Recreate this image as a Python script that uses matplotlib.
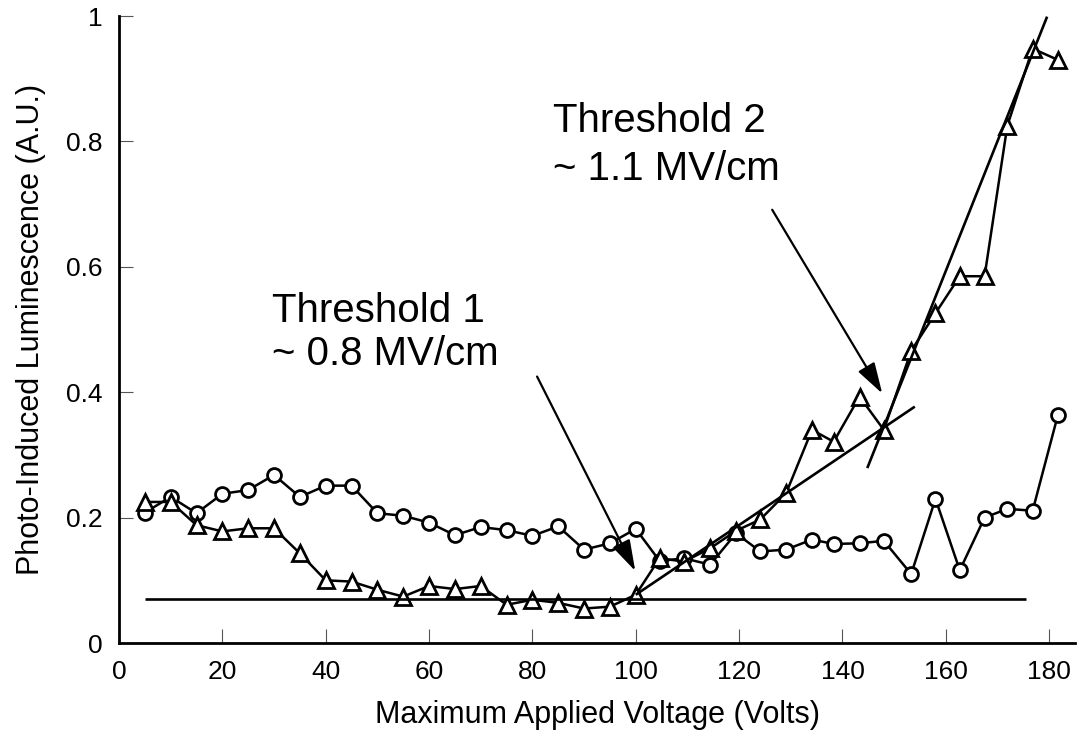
import matplotlib
matplotlib.use("Agg")
import matplotlib.pyplot as plt

plt.rcParams['font.family'] = ['Liberation Sans', 'DejaVu Sans']

# measured points (volts, luminescence)
volts = [5, 10, 15, 20, 25, 30, 35, 40, 45, 50, 55, 60, 65, 70, 75, 80, 85,
         90, 95, 100, 104.6, 109.4, 114.4, 119.4, 124.1, 129.1, 134.1, 138.3,
         143.3, 148, 153.3, 158, 162.7, 167.5, 171.9, 176.8, 181.7]
lum_circle = [0.208, 0.233, 0.207, 0.238, 0.244, 0.268, 0.233, 0.251, 0.251,
              0.207, 0.203, 0.192, 0.172, 0.185, 0.180, 0.171, 0.186, 0.149,
              0.159, 0.182, 0.131, 0.135, 0.125, 0.175, 0.146, 0.149, 0.165,
              0.158, 0.159, 0.163, 0.110, 0.230, 0.116, 0.200, 0.214, 0.211,
              0.364]
lum_triangle = [0.225, 0.225, 0.188, 0.178, 0.183, 0.183, 0.143, 0.100, 0.098,
                0.085, 0.074, 0.091, 0.086, 0.091, 0.061, 0.069, 0.064, 0.055,
                0.058, 0.077, 0.135, 0.130, 0.151, 0.179, 0.197, 0.239, 0.340,
                0.321, 0.393, 0.340, 0.466, 0.526, 0.585, 0.585, 0.825, 0.948,
                0.930]

# hand drawn fit lines
base_x = [5, 175.5]
base_y = [0.07, 0.07]
fit1_x = [100, 154]
fit1_y = [0.077, 0.377]
fit2_x = [144.8, 179.6]
fit2_y = [0.279, 0.999]

labels1 = ["Threshold 1", "~ 0.8 MV/cm"]
labels2 = ["Threshold 2", "~ 1.1 MV/cm"]

xticks = [0, 20, 40, 60, 80, 100, 120, 140, 160, 180]
yticks = [0, 0.2, 0.4, 0.6, 0.8, 1]
ytick_labels = ["0", "0.2", "0.4", "0.6", "0.8", "1"]

fig = plt.figure(figsize=(10.79, 7.38), dpi=100)
ax = fig.add_axes([0.1103, 0.1287, 0.886, 0.8496])

lw = 1.8
ax.plot(volts, lum_circle, color='black', lw=lw, marker='o', ms=10,
        mfc='white', mec='black', mew=2, zorder=3)
ax.plot(volts, lum_triangle, color='black', lw=lw, marker='^', ms=11,
        mfc='white', mec='black', mew=2, zorder=3)

for fx, fy in [(base_x, base_y), (fit1_x, fit1_y), (fit2_x, fit2_y)]:
    ax.plot(fx, fy, color='black', lw=1.9, zorder=4, solid_capstyle='butt')

arrow = dict(arrowstyle='-|>,head_length=1.9,head_width=0.58',
             color='black', lw=1.6, shrinkA=0, shrinkB=0, mutation_scale=10)
ax.annotate("", xy=(99.9, 0.115), xytext=(80.9, 0.425), arrowprops=arrow,
            zorder=5)
ax.annotate("", xy=(147.7, 0.398), xytext=(126.4, 0.691), arrowprops=arrow,
            zorder=5)

ax.text(29.6, 0.512, labels1[0], fontsize=29, va='baseline')
ax.text(29.6, 0.443, labels1[1], fontsize=29, va='baseline')
ax.text(84.0, 0.815, labels2[0], fontsize=29, va='baseline')
ax.text(84.0, 0.738, labels2[1], fontsize=29, va='baseline')

ax.set_xlim(0, 185)
ax.set_ylim(0, 1)
ax.set_xticks(xticks)
ax.set_yticks(yticks)
ax.set_yticklabels(ytick_labels)
ax.tick_params(direction='in', length=10, width=0.8, color='#555555',
               labelsize=19)
ax.tick_params(axis='x', pad=12)
ax.tick_params(axis='y', pad=12)

for side in ['top', 'right']:
    ax.spines[side].set_visible(False)
for side in ['left', 'bottom']:
    ax.spines[side].set_linewidth(2)

ax.set_xlabel("Maximum Applied Voltage (Volts)", fontsize=22, labelpad=12)
ax.set_ylabel("Photo-Induced Luminescence (A.U.)", fontsize=22, labelpad=14)

fig.savefig("out.png", dpi=100)
